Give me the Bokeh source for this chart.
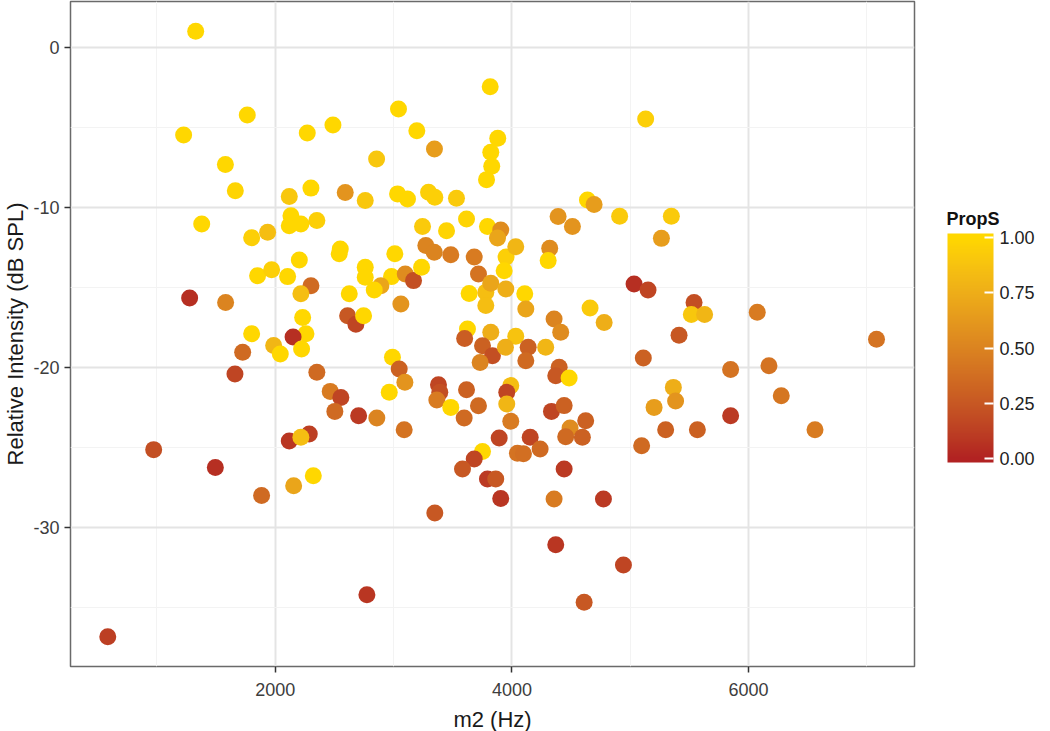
import numpy as np
from bokeh.plotting import figure
from bokeh.models import (ColumnDataSource, LinearColorMapper, ColorBar,
                          FixedTicker, PrintfTickFormatter, Range1d)
from bokeh.embed import file_html
from bokeh.resources import INLINE

# ---- data ----
m2_hz = [1327, 1763, 1225, 1578, 1662, 1378, 1800, 1935, 1850, 1969,
         1276, 1580, 1800, 3816, 3041, 2487, 2270, 3196, 3345, 2856,
         3880, 3821, 3829, 3785, 2118, 2301, 2591, 2760, 3033, 3117,
         3295, 3348, 3531, 2132, 2118, 2216, 2351, 3244, 3447, 3616,
         3793, 3905, 3878, 3272, 3343, 3483, 2549, 2540, 2203, 2104,
         2301, 2216, 2760, 2760, 3010, 2982, 2892, 2836, 3098, 3168,
         3236, 2625, 3061, 2231, 2259, 2150, 2611, 2681, 2746, 3624,
         3600, 3821, 3681, 3717, 3638, 3779, 3821, 3948, 3779, 3950,
         3934, 5130, 4638, 4694, 4390, 4511, 4910, 5347, 5263, 4032,
         4319, 4306, 4108, 4117, 4660, 4779, 4356, 4412, 5032, 5150,
         5539, 5516, 5628, 5412, 4032, 6073, 7081, 1724, 1986, 2042,
         1659, 972, 1493, 1884, 584, 2222, 2351, 2464, 2554, 2503,
         2704, 2858, 2990, 3047, 3095, 2963, 3089, 2118, 2287, 2216,
         2155, 2321, 2774, 3348, 3751, 3835, 3731, 3945, 3379, 3390,
         3365, 3483, 3616, 3717, 3596, 3892, 3751, 3681, 3582, 3793,
         3863, 3905, 4137, 4117, 4285, 5110, 4399, 4370, 4483, 3990,
         3956, 3956, 3990, 4154, 4238, 4046, 4097, 4334, 4441, 4623,
         4491, 4454, 4595, 4441, 4356, 4773, 4370, 4942, 4610, 5364,
         5383, 5201, 5299, 5567, 5096, 5848, 5848, 6172, 6276, 6561]

rel_db = [1.0, -4.23, -5.48, -7.33, -8.96, -11.04, -11.9, -11.56, -14.27, -13.9,
          -15.66, -15.94, -17.9, -2.46, -3.85, -4.85, -5.35, -5.21, -6.35, -6.98,
          -5.69, -6.56, -7.44, -8.27, -9.33, -8.8, -9.07, -9.58, -9.16, -9.48,
          -9.06, -9.37, -9.44, -10.52, -11.15, -11.04, -10.83, -11.2, -11.46, -10.73,
          -11.2, -11.41, -11.91, -12.39, -12.81, -12.96, -12.6, -12.9, -13.29, -14.33,
          -14.9, -15.4, -13.75, -14.37, -12.9, -14.33, -14.9, -15.16, -14.16, -14.58,
          -13.75, -15.4, -16.04, -16.88, -17.9, -18.1, -16.77, -17.3, -16.77, -17.6,
          -18.2, -17.8, -13.1, -14.16, -15.38, -15.3, -14.74, -15.1, -16.14, -13.1,
          -13.96, -4.48, -9.54, -9.83, -10.58, -11.2, -10.56, -10.56, -11.94, -12.46,
          -12.56, -13.33, -15.4, -16.35, -16.29, -17.19, -16.98, -17.8, -14.79, -15.16,
          -15.94, -16.7, -16.7, -18.0, -18.05, -16.56, -18.25, -19.06, -18.64, -19.17,
          -20.41, -25.14, -26.25, -28.0, -36.83, -18.85, -20.3, -21.5, -21.88, -22.75,
          -23.02, -23.16, -19.37, -20.1, -20.93, -21.56, -23.9, -24.6, -24.16, -24.37,
          -27.4, -26.77, -34.2, -29.1, -18.65, -19.27, -19.69, -18.75, -21.08, -21.56,
          -22.04, -22.5, -21.4, -22.4, -23.16, -24.41, -25.25, -25.72, -26.35, -26.98,
          -26.98, -28.2, -18.75, -19.58, -18.75, -19.41, -20.0, -20.52, -20.66, -21.14,
          -21.56, -22.29, -23.37, -24.37, -25.1, -25.37, -25.4, -22.75, -22.39, -23.33,
          -23.79, -24.33, -24.37, -26.35, -28.22, -28.22, -31.08, -32.35, -34.68, -21.25,
          -22.1, -22.5, -23.9, -23.9, -24.9, -20.13, -23.02, -19.9, -21.77, -23.9]

prop_s = [1.0, 1.0, 1.0, 1.0, 0.98, 1.0, 0.95, 0.85, 1.0, 0.95,
          0.05, 0.5, 1.0, 1.0, 1.0, 1.0, 1.0, 1.0, 0.65, 0.9,
          1.0, 1.0, 1.0, 1.0, 0.9, 1.0, 0.6, 0.9, 1.0, 1.0,
          0.95, 0.95, 0.92, 1.0, 1.0, 1.0, 0.95, 0.92, 0.98, 0.98,
          1.0, 0.55, 0.7, 0.5, 0.5, 0.45, 1.0, 1.0, 1.0, 1.0,
          0.35, 0.85, 1.0, 1.0, 1.0, 1.0, 0.7, 1.0, 0.55, 0.2,
          1.0, 1.0, 0.6, 1.0, 1.0, 0.05, 0.25, 0.15, 1.0, 1.0,
          0.28, 0.75, 0.45, 0.4, 1.0, 0.85, 0.7, 0.75, 0.85, 0.95,
          1.0, 0.95, 1.0, 0.65, 0.6, 0.6, 0.92, 0.92, 0.65, 0.8,
          0.55, 1.0, 1.0, 0.7, 0.92, 0.75, 0.5, 0.55, 0.05, 0.15,
          0.2, 0.9, 0.8, 0.25, 0.88, 0.45, 0.4, 0.35, 0.8, 1.0,
          0.15, 0.2, 0.05, 0.35, 0.12, 1.0, 0.35, 0.45, 0.15, 0.35,
          0.1, 0.5, 1.0, 0.3, 0.6, 1.0, 0.4, 0.08, 0.12, 0.85,
          0.7, 1.0, 0.08, 0.25, 0.3, 0.2, 0.5, 0.75, 0.15, 0.2,
          0.45, 1.0, 0.3, 0.35, 0.35, 0.15, 1.0, 0.15, 0.25, 0.1,
          0.25, 0.08, 0.3, 0.35, 0.8, 0.3, 0.3, 0.25, 1.0, 0.85,
          0.15, 0.8, 0.45, 0.15, 0.35, 0.4, 0.38, 0.15, 0.3, 0.3,
          0.55, 0.35, 0.3, 0.1, 0.45, 0.1, 0.08, 0.15, 0.25, 0.75,
          0.6, 0.65, 0.3, 0.3, 0.35, 0.4, 0.1, 0.4, 0.42, 0.45]

x_ticks = [2000, 4000, 6000]
x_minor = [1000, 3000, 5000, 7000]
y_ticks = [-30, -20, -10, 0]
y_minor = [-35, -25, -15, -5]
legend_ticks = [0.0, 0.25, 0.5, 0.75, 1.0]
legend_title = "PropS"

# ---- colour ramp (firebrick -> gold, interpolated in CIELAB like ggplot) ----
def _srgb_to_lab(rgb):
    c = np.array(rgb, dtype=float) / 255.0
    c = np.where(c <= 0.04045, c / 12.92, ((c + 0.055) / 1.055) ** 2.4)
    m = np.array([[0.4124564, 0.3575761, 0.1804375],
                  [0.2126729, 0.7151522, 0.0721750],
                  [0.0193339, 0.1191920, 0.9503041]])
    xyz = m @ c
    wp = np.array([0.95047, 1.0, 1.08883])
    t = xyz / wp
    f = np.where(t > (6 / 29) ** 3, np.cbrt(t), t / (3 * (6 / 29) ** 2) + 4 / 29)
    return np.array([116 * f[1] - 16, 500 * (f[0] - f[1]), 200 * (f[1] - f[2])])

def _lab_to_hex(lab):
    L, a, b = lab
    fy = (L + 16) / 116
    fx = fy + a / 500
    fz = fy - b / 200
    def finv(f):
        return f ** 3 if f > 6 / 29 else 3 * (6 / 29) ** 2 * (f - 4 / 29)
    wp = np.array([0.95047, 1.0, 1.08883])
    xyz = np.array([finv(fx), finv(fy), finv(fz)]) * wp
    mi = np.array([[3.2404542, -1.5371385, -0.4985314],
                   [-0.9692660, 1.8760108, 0.0415560],
                   [0.0556434, -0.2040259, 1.0572252]])
    c = mi @ xyz
    c = np.clip(c, 0, 1)
    c = np.where(c <= 0.0031308, 12.92 * c, 1.055 * c ** (1 / 2.4) - 0.055)
    r, g, bb = (np.clip(np.round(c * 255), 0, 255)).astype(int)
    return "#%02x%02x%02x" % (r, g, bb)

LOW = _srgb_to_lab((178, 34, 34))
HIGH = _srgb_to_lab((255, 215, 0))
palette = [_lab_to_hex(LOW + (HIGH - LOW) * t) for t in np.linspace(0, 1, 256)]
mapper = LinearColorMapper(palette=palette, low=0, high=1)

ext = 0.02
bar_pal = [_lab_to_hex(LOW + (HIGH - LOW) * min(max(t, 0), 1))
           for t in np.linspace(-ext, 1 + ext, 256)]
bar_mapper = LinearColorMapper(palette=bar_pal, low=-ext, high=1 + ext)

FONT = "Liberation Sans"

src = ColumnDataSource(dict(x=m2_hz, y=rel_db, c=prop_s))

p = figure(frame_width=844, frame_height=665, width=1034, height=730,
           x_range=Range1d(269, 7402), y_range=Range1d(-38.69, 2.86),
           output_backend="svg", toolbar_location=None,
           min_border_left=65, min_border_top=1, min_border_bottom=64,
           min_border_right=125)

p.background_fill_color = "white"
p.border_fill_color = "white"
p.outline_line_color = "#6a6a6a"
p.outline_line_width = 1.5

p.scatter(x="x", y="y", size=17, source=src, line_color=None,
          fill_color={"field": "c", "transform": mapper})

for ax, ticks, minor in ((p.xaxis, x_ticks, x_minor), (p.yaxis, y_ticks, y_minor)):
    ax.ticker = FixedTicker(ticks=ticks, minor_ticks=minor)
    ax.axis_line_color = None
    ax.major_tick_line_color = "#333333"
    ax.major_tick_line_width = 1.5
    ax.major_tick_out = 6
    ax.major_tick_in = 0
    ax.minor_tick_line_color = None
    ax.major_label_text_font = FONT
    ax.major_label_text_font_size = "18px"
    ax.major_label_text_color = "#3d3d3d"
    ax.axis_label_text_font = FONT
    ax.axis_label_text_font_size = "22px"
    ax.axis_label_text_font_style = "normal"
    ax.axis_label_text_color = "#1a1a1a"

p.yaxis.formatter = PrintfTickFormatter(format="%d")
p.xaxis.formatter = PrintfTickFormatter(format="%d")
p.xaxis.axis_label = "m2 (Hz)"
p.yaxis.axis_label = "Relative Intensity (dB SPL)"
p.xaxis.major_label_standoff = 10
p.yaxis.major_label_standoff = 5
p.xaxis.axis_label_standoff = 8
p.yaxis.axis_label_standoff = 2

for g in (p.xgrid, p.ygrid):
    g.grid_line_color = "#e4e4e4"
    g.grid_line_width = 2
    g.minor_grid_line_color = "#f3f3f3"
    g.minor_grid_line_width = 1

cb = ColorBar(color_mapper=bar_mapper,
              ticker=FixedTicker(ticks=legend_ticks),
              formatter=PrintfTickFormatter(format="%.2f"),
              width=46, height=229,
              major_label_text_font=FONT, major_label_text_font_size="18px",
              major_label_text_color="#222222", label_standoff=6,
              major_tick_line_color="white", major_tick_line_width=2,
              major_tick_in=9, major_tick_out=0,
              minor_tick_line_color=None, bar_line_color=None,
              border_line_color=None, background_fill_color=None,
              padding=0, margin=0, location=(877, 204))
p.add_layout(cb, "center")

# legend title: an invisible horizontal colour bar that only carries the title
title_bar = ColorBar(color_mapper=bar_mapper, orientation="horizontal",
                     ticker=FixedTicker(ticks=[]),
                     width=40, height=1, scale_alpha=0.0,
                     title=legend_title, title_text_font=FONT,
                     title_text_font_size="18px", title_text_font_style="bold",
                     title_text_color="#111111", title_standoff=0,
                     major_label_text_font_size="1px", major_label_text_alpha=0.0,
                     label_standoff=0,
                     major_tick_line_color=None, minor_tick_line_color=None,
                     bar_line_color=None, border_line_color=None,
                     background_fill_color=None, padding=0, margin=0,
                     location=(876, 437))
p.add_layout(title_bar, "center")

open("out.html", "w").write(file_html(p, INLINE))
